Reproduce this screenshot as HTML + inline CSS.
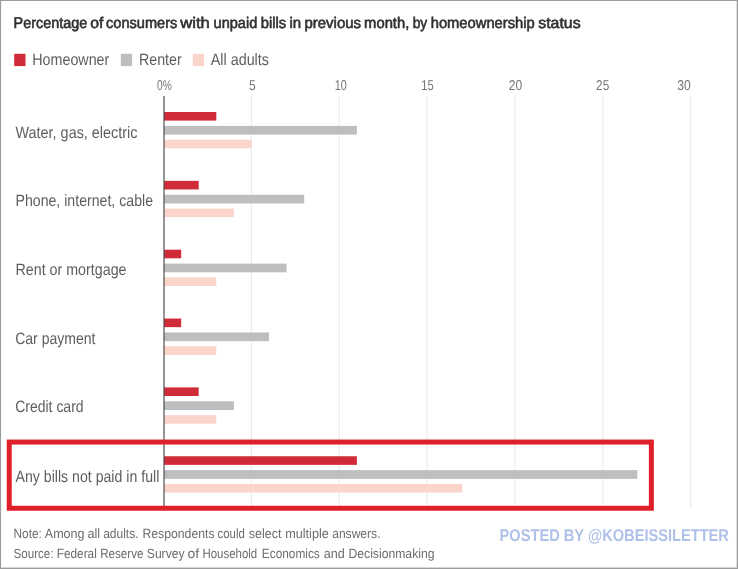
<!DOCTYPE html>
<html>
<head>
<meta charset="utf-8">
<title>Chart</title>
<style>
html,body{margin:0;padding:0;background:#fff;}
body{width:738px;height:569px;overflow:hidden;font-family:"Liberation Sans",sans-serif;}
svg{display:block;}
text{font-family:"Liberation Sans",sans-serif;text-rendering:geometricPrecision;}
</style>
</head>
<body>
<svg width="738" height="569" viewBox="0 0 738 569">
<rect x="0" y="0" width="738" height="569" fill="#ffffff"/>

<g id="content" style="filter:blur(0.5px)">
<!-- gridlines -->
<g stroke="#eaeaea" stroke-width="1.1">
<line x1="251.4" y1="96" x2="251.4" y2="507.5"/>
<line x1="339.2" y1="96" x2="339.2" y2="507.5"/>
<line x1="427.1" y1="96" x2="427.1" y2="507.5"/>
<line x1="514.9" y1="96" x2="514.9" y2="507.5"/>
<line x1="602.8" y1="96" x2="602.8" y2="507.5"/>
<line x1="690.7" y1="96" x2="690.7" y2="507.5"/>
</g>

<!-- bars -->
<g id="bars">
<rect x="164.0" y="112.00" width="52.3" height="8.6" fill="#d02b39"/>
<rect x="164.0" y="125.90" width="192.9" height="8.7" fill="#bcbebf"/>
<rect x="164.0" y="139.70" width="87.4" height="8.6" fill="#fbd5cb"/>
<rect x="164.0" y="180.85" width="34.7" height="8.6" fill="#d02b39"/>
<rect x="164.0" y="194.75" width="140.2" height="8.7" fill="#bcbebf"/>
<rect x="164.0" y="208.55" width="69.9" height="8.6" fill="#fbd5cb"/>
<rect x="164.0" y="249.70" width="17.2" height="8.6" fill="#d02b39"/>
<rect x="164.0" y="263.60" width="122.6" height="8.7" fill="#bcbebf"/>
<rect x="164.0" y="277.40" width="52.3" height="8.6" fill="#fbd5cb"/>
<rect x="164.0" y="318.55" width="17.2" height="8.6" fill="#d02b39"/>
<rect x="164.0" y="332.45" width="105.0" height="8.7" fill="#bcbebf"/>
<rect x="164.0" y="346.25" width="52.3" height="8.6" fill="#fbd5cb"/>
<rect x="164.0" y="387.40" width="34.7" height="8.6" fill="#d02b39"/>
<rect x="164.0" y="401.30" width="69.9" height="8.7" fill="#bcbebf"/>
<rect x="164.0" y="415.10" width="52.3" height="8.6" fill="#fbd5cb"/>
<rect x="164.0" y="456.25" width="192.9" height="8.6" fill="#d02b39"/>
<rect x="164.0" y="470.15" width="473.3" height="8.7" fill="#bcbebf"/>
<rect x="164.0" y="483.95" width="298.3" height="8.6" fill="#fbd5cb"/>
</g>

<!-- axis -->
<line x1="164" y1="96" x2="164" y2="507.5" stroke="#484848" stroke-width="1.15"/>

<!-- red highlight box -->
<rect x="9.25" y="442.05" width="642.1" height="66.2" fill="none" stroke="#df1f2a" stroke-width="5"/>

<!-- title -->
<g font-size="15.4" fill="#303030" stroke="#303030" stroke-width="0.6" stroke-linejoin="round">
<text x="13.6" y="28" textLength="73.7" lengthAdjust="spacingAndGlyphs">Percentage</text>
<text x="90.2" y="28" textLength="13.2" lengthAdjust="spacingAndGlyphs">of</text>
<text x="106.1" y="28" textLength="71.2" lengthAdjust="spacingAndGlyphs">consumers</text>
<text x="180.2" y="28" textLength="29.6" lengthAdjust="spacingAndGlyphs">with</text>
<text x="213.6" y="28" textLength="43.7" lengthAdjust="spacingAndGlyphs">unpaid</text>
<text x="260.7" y="28" textLength="25.4" lengthAdjust="spacingAndGlyphs">bills</text>
<text x="289.4" y="28" textLength="11.7" lengthAdjust="spacingAndGlyphs">in</text>
<text x="304.4" y="28" textLength="56.7" lengthAdjust="spacingAndGlyphs">previous</text>
<text x="364.1" y="28" textLength="45.2" lengthAdjust="spacingAndGlyphs">month,</text>
<text x="412.7" y="28" textLength="14.6" lengthAdjust="spacingAndGlyphs">by</text>
<text x="430.7" y="28" textLength="104.1" lengthAdjust="spacingAndGlyphs">homeownership</text>
<text x="538.2" y="28" textLength="42.4" lengthAdjust="spacingAndGlyphs">status</text>
</g>

<!-- legend -->
<rect x="14.2" y="53.8" width="11.3" height="12.3" fill="#d02b39"/>
<text x="32.3" y="65" font-size="16.5" fill="#5e5e5e" textLength="77" lengthAdjust="spacingAndGlyphs">Homeowner</text>
<rect x="120.8" y="53.8" width="11.3" height="12.3" fill="#bcbebf"/>
<text x="139" y="65" font-size="16.5" fill="#5e5e5e" textLength="42.7" lengthAdjust="spacingAndGlyphs">Renter</text>
<rect x="192.8" y="53.8" width="11.3" height="12.3" fill="#fbd5cb"/>
<text x="210.7" y="65" font-size="16.5" fill="#5e5e5e" textLength="58.3" lengthAdjust="spacingAndGlyphs">All adults</text>

<!-- tick labels -->
<g font-size="14.2" fill="#747474">
<text x="157.1" y="90" textLength="14.7" lengthAdjust="spacingAndGlyphs">0%</text>
<text x="249.0" y="90" textLength="6.7" lengthAdjust="spacingAndGlyphs">5</text>
<text x="334.7" y="90" textLength="12.0" lengthAdjust="spacingAndGlyphs">10</text>
<text x="421.2" y="90" textLength="12.5" lengthAdjust="spacingAndGlyphs">15</text>
<text x="508.7" y="90" textLength="13.4" lengthAdjust="spacingAndGlyphs">20</text>
<text x="596.1" y="90" textLength="13.1" lengthAdjust="spacingAndGlyphs">25</text>
<text x="677.3" y="90" textLength="13.4" lengthAdjust="spacingAndGlyphs">30</text>
</g>

<!-- category labels -->
<g font-size="16.5" fill="#5e5e5e">
<text x="15.5" y="137.6" textLength="122" lengthAdjust="spacingAndGlyphs">Water, gas, electric</text>
<text x="15.5" y="206" textLength="137.5" lengthAdjust="spacingAndGlyphs">Phone, internet, cable</text>
<text x="15.5" y="275" textLength="111" lengthAdjust="spacingAndGlyphs">Rent or mortgage</text>
<text x="15.2" y="344" textLength="80.3" lengthAdjust="spacingAndGlyphs">Car payment</text>
<text x="15.2" y="412" textLength="68.4" lengthAdjust="spacingAndGlyphs">Credit card</text>
<text x="15.5" y="482" textLength="143.8" lengthAdjust="spacingAndGlyphs">Any bills not paid in full</text>
</g>

<!-- footnotes -->
<g font-size="13.3" fill="#6c6c6c">
<text x="13.5" y="538.3" textLength="28.3" lengthAdjust="spacingAndGlyphs">Note:</text>
<text x="44.8" y="538.3" textLength="39.7" lengthAdjust="spacingAndGlyphs">Among</text>
<text x="87.5" y="538.3" textLength="12.7" lengthAdjust="spacingAndGlyphs">all</text>
<text x="103.2" y="538.3" textLength="35.3" lengthAdjust="spacingAndGlyphs">adults.</text>
<text x="142.5" y="538.3" textLength="72.0" lengthAdjust="spacingAndGlyphs">Respondents</text>
<text x="217.5" y="538.3" textLength="27.3" lengthAdjust="spacingAndGlyphs">could</text>
<text x="248.8" y="538.3" textLength="32.7" lengthAdjust="spacingAndGlyphs">select</text>
<text x="285.2" y="538.3" textLength="43.6" lengthAdjust="spacingAndGlyphs">multiple</text>
<text x="332.2" y="538.3" textLength="48.3" lengthAdjust="spacingAndGlyphs">answers.</text>
<text x="13.5" y="557.7" textLength="40.0" lengthAdjust="spacingAndGlyphs">Source:</text>
<text x="56.8" y="557.7" textLength="40.0" lengthAdjust="spacingAndGlyphs">Federal</text>
<text x="100.2" y="557.7" textLength="43.3" lengthAdjust="spacingAndGlyphs">Reserve</text>
<text x="146.8" y="557.7" textLength="37.7" lengthAdjust="spacingAndGlyphs">Survey</text>
<text x="187.5" y="557.7" textLength="11.7" lengthAdjust="spacingAndGlyphs">of</text>
<text x="202.5" y="557.7" textLength="54.7" lengthAdjust="spacingAndGlyphs">Household</text>
<text x="261.8" y="557.7" textLength="58.0" lengthAdjust="spacingAndGlyphs">Economics</text>
<text x="323.8" y="557.7" textLength="21.0" lengthAdjust="spacingAndGlyphs">and</text>
<text x="348.5" y="557.7" textLength="86.0" lengthAdjust="spacingAndGlyphs">Decisionmaking</text>
</g>

<!-- watermark -->
<text x="499.6" y="541.4" font-size="17" font-weight="bold" fill="#afc1e8" textLength="229.3" lengthAdjust="spacingAndGlyphs">POSTED BY @KOBEISSILETTER</text>

</g>
<!-- outer border -->
<rect x="0" y="0" width="738" height="1" fill="#9c9c9c"/>
<rect x="0" y="0" width="1.1" height="569" fill="#9c9c9c"/>
<rect x="736.7" y="0" width="1.3" height="569" fill="#9c9c9c"/>
<rect x="0" y="567.6" width="738" height="1.4" fill="#9c9c9c"/>
</svg>
</body>
</html>
